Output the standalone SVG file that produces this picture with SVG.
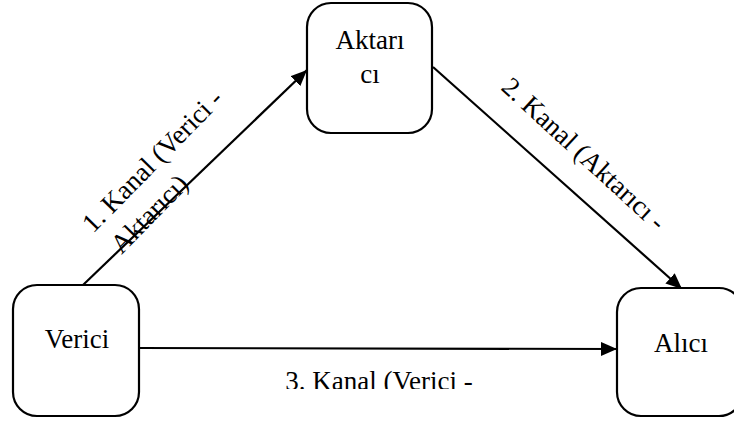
<svg xmlns="http://www.w3.org/2000/svg" width="734" height="424" viewBox="0 0 734 424">
<style>
.box{fill:#fff;stroke:#000;stroke-width:2.2}
.t{font-family:"Liberation Serif","Times New Roman",serif;font-size:27px;fill:#000}
.c{text-anchor:middle}
.ln{stroke:#000;stroke-width:2.2;fill:none;marker-end:url(#ah)}
</style>
<defs>
<marker id="ah" markerUnits="userSpaceOnUse" markerWidth="18" markerHeight="14" refX="16" refY="7" orient="auto">
<path d="M0,0 L16,7 L0,14 Z" fill="#000"/>
</marker>
<clipPath id="clip3"><rect x="250" y="355" width="260" height="34"/></clipPath>
</defs>
<g id="connectors">
<line class="ln" x1="83" y1="285" x2="307" y2="70"/>
<line class="ln" x1="433" y1="67" x2="682" y2="289"/>
<line class="ln" x1="139" y1="348" x2="617" y2="349"/>
</g>
<g id="node-aktarici">
<rect class="box" x="307" y="3" width="125" height="130" rx="24"/>
<text class="t c" x="370" y="49">Aktarı</text>
<text class="t c" x="370" y="83">cı</text>
</g>
<g id="node-verici">
<rect class="box" x="13" y="285" width="126" height="131" rx="24"/>
<text class="t c" x="77" y="348">Verici</text>
</g>
<g id="node-alici">
<rect class="box" x="617" y="288" width="126" height="128" rx="24"/>
<text class="t c" x="681" y="352">Alıcı</text>
</g>
<g id="labels">
<g transform="translate(93,234) rotate(-45.5)">
<text class="t" x="0" y="0">1. Kanal (Verici -</text>
<text class="t" x="5" y="35">Aktarıcı)</text>
</g>
<g transform="translate(500,89) rotate(42.5)">
<text class="t" x="0" y="0">2. Kanal (Aktarıcı -</text>
</g>
<g clip-path="url(#clip3)">
<text class="t c" x="379" y="390">3. Kanal (Verici -</text>
</g>
</g>
</svg>
